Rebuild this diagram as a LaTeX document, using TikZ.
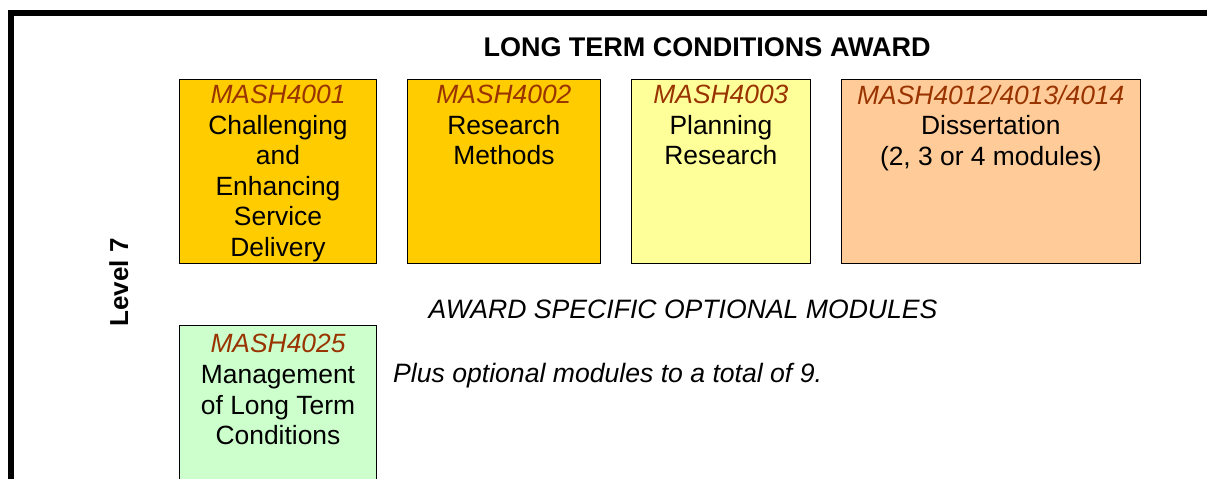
\documentclass[tikz,border=0pt]{standalone}
\usepackage{fontspec}
\setmainfont{Liberation Sans}
\definecolor{gold}{HTML}{FFCC00}
\definecolor{paleyellow}{HTML}{FFFF99}
\definecolor{peach}{HTML}{FFCC99}
\definecolor{palegreen}{HTML}{CCFFCC}
\definecolor{codebrown}{HTML}{993300}
\newcommand{\modcode}[1]{\textcolor{codebrown}{\itshape #1}}
\begin{document}
\begin{tikzpicture}[x=1pt,y=1pt,
  modbox/.style={draw=black, line width=1pt, anchor=north west, inner sep=0pt, outer sep=0pt},
  modlabel/.style={anchor=north, inner sep=0pt, align=center, font=\fontsize{26.4}{30.6}\selectfont},
  plain/.style={inner sep=0pt, font=\fontsize{26.6}{30.6}\selectfont}]
\useasboundingbox (0,0) rectangle (1207,-479);
\clip (0,0) rectangle (1207,-479);
% frame
\draw[line width=6pt] (11,-485) -- (11,-13) -- (1210,-13);
% title
\node[plain, anchor=base, font=\fontsize{27}{30.6}\selectfont\bfseries] (title) at (707,-56.5) {LONG TERM CONDITIONS AWARD};
% level label
\node[plain, anchor=base, rotate=90, font=\fontsize{26}{30.6}\selectfont\bfseries] (level) at (128,-282.5) {Level 7};
% core modules
\node[modbox, fill=gold, minimum width=197pt, minimum height=184pt] (m1) at (179.5,-79.3) {};
\node[modbox, fill=gold, minimum width=193.2pt, minimum height=184pt] (m2) at (407.3,-79.3) {};
\node[modbox, fill=paleyellow, minimum width=179.2pt, minimum height=184pt] (m3) at (631.3,-79.3) {};
\node[modbox, fill=peach, minimum width=299pt, minimum height=184pt] (m4) at (841.3,-79.3) {};
\node[modlabel] (t1) at ([yshift=-5.5pt]m1.north) {\modcode{MASH4001}\\Challenging\\and\\Enhancing\\Service\\Delivery};
\node[modlabel] (t2) at ([yshift=-5.5pt]m2.north) {\modcode{MASH4002}\\Research\\Methods};
\node[modlabel] (t3) at ([yshift=-5.5pt]m3.north) {\modcode{MASH4003}\\Planning\\Research};
\node[modlabel] (t4) at ([yshift=-5.5pt]m4.north) {\modcode{MASH4012/4013/4014}\\Dissertation\\(2, 3 or 4 modules)};
% optional
\node[plain, anchor=base, font=\fontsize{26.6}{30.6}\selectfont\itshape] (opt) at (683,-318.5) {AWARD SPECIFIC OPTIONAL MODULES};
\node[modbox, fill=palegreen, minimum width=197pt, minimum height=170pt] (m5) at (179.5,-325.7) {};
\node[modlabel] (t5) at ([yshift=-8.5pt]m5.north) {\modcode{MASH4025}\\Management\\of Long Term\\Conditions};
\node[plain, anchor=base west, font=\fontsize{26.6}{30.6}\selectfont\itshape] (plus) at (393,-382) {Plus optional modules to a total of 9.};
\end{tikzpicture}
\end{document}
